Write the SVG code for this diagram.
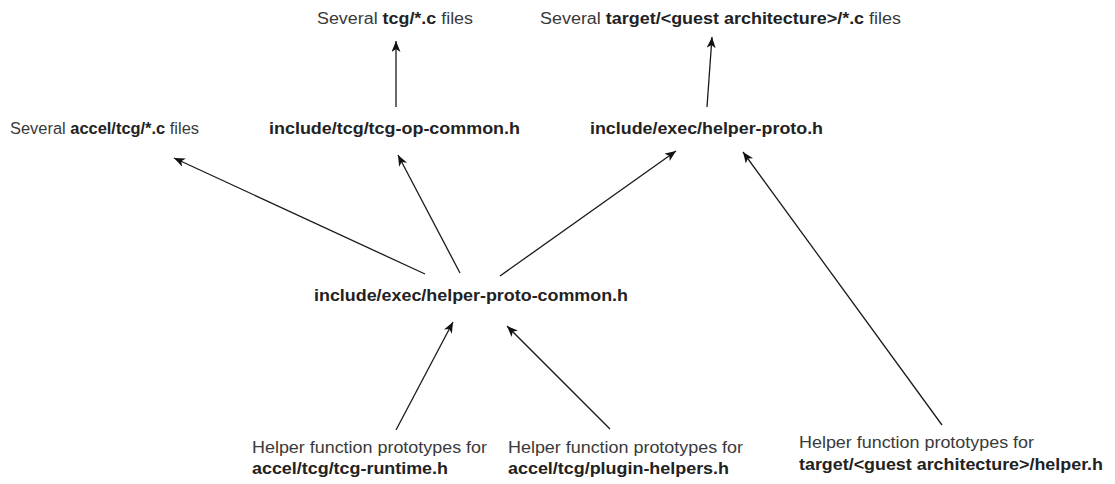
<svg xmlns="http://www.w3.org/2000/svg" width="1115" height="484" viewBox="0 0 1115 484">
  <style>
    text { font-family: "Liberation Sans", Arial, sans-serif; font-size: 16px; fill: #3a3a3a; }
    .b { font-weight: bold; fill: #222; }
    .edge { stroke: #1a1a1a; stroke-width: 1.3; fill: none; marker-end: url(#arrow); }
  </style>
  <defs>
    <marker id="arrow" markerUnits="userSpaceOnUse" markerWidth="12" markerHeight="10" refX="11" refY="4.5" orient="auto">
      <path d="M0,0 L11,4.5 L0,9 L3,4.5 Z" fill="#111"/>
    </marker>
  </defs>

  <rect width="1115" height="484" fill="#fff"/>

  <!-- connectors -->
  <g id="connectors">
    <line class="edge" x1="396" y1="107" x2="396" y2="41"/>
    <line class="edge" x1="707" y1="107" x2="712" y2="37"/>
    <line class="edge" x1="425" y1="274" x2="174" y2="158"/>
    <line class="edge" x1="460" y1="273" x2="398" y2="155"/>
    <line class="edge" x1="500" y1="276" x2="676" y2="151"/>
    <line class="edge" x1="942" y1="425" x2="743" y2="152"/>
    <line class="edge" x1="396" y1="430" x2="453" y2="322"/>
    <line class="edge" x1="610" y1="429" x2="507" y2="326"/>
  </g>

  <!-- nodes -->
  <g id="tcg-files">
    <text x="317" y="24" textLength="156" lengthAdjust="spacingAndGlyphs">Several <tspan class="b">tcg/*.c</tspan> files</text>
  </g>
  <g id="target-files">
    <text x="540" y="24" textLength="361" lengthAdjust="spacingAndGlyphs">Several <tspan class="b">target/&lt;guest architecture&gt;/*.c</tspan> files</text>
  </g>
  <g id="accel-files">
    <text x="10" y="134" textLength="189" lengthAdjust="spacingAndGlyphs">Several <tspan class="b">accel/tcg/*.c</tspan> files</text>
  </g>
  <g id="tcg-op-common">
    <text class="b" x="269" y="134" textLength="251" lengthAdjust="spacingAndGlyphs">include/tcg/tcg-op-common.h</text>
  </g>
  <g id="helper-proto">
    <text class="b" x="590" y="134" textLength="233" lengthAdjust="spacingAndGlyphs">include/exec/helper-proto.h</text>
  </g>
  <g id="helper-proto-common">
    <text class="b" x="314" y="301" textLength="314" lengthAdjust="spacingAndGlyphs">include/exec/helper-proto-common.h</text>
  </g>
  <g id="tcg-runtime">
    <text x="252" y="453" textLength="235" lengthAdjust="spacingAndGlyphs">Helper function prototypes for</text>
    <text class="b" x="252" y="474" textLength="196" lengthAdjust="spacingAndGlyphs">accel/tcg/tcg-runtime.h</text>
  </g>
  <g id="plugin-helpers">
    <text x="508" y="453" textLength="235" lengthAdjust="spacingAndGlyphs">Helper function prototypes for</text>
    <text class="b" x="508" y="474" textLength="221" lengthAdjust="spacingAndGlyphs">accel/tcg/plugin-helpers.h</text>
  </g>
  <g id="target-helper">
    <text x="799" y="448" textLength="235" lengthAdjust="spacingAndGlyphs">Helper function prototypes for</text>
    <text class="b" x="799" y="470" textLength="304" lengthAdjust="spacingAndGlyphs">target/&lt;guest architecture&gt;/helper.h</text>
  </g>
</svg>
